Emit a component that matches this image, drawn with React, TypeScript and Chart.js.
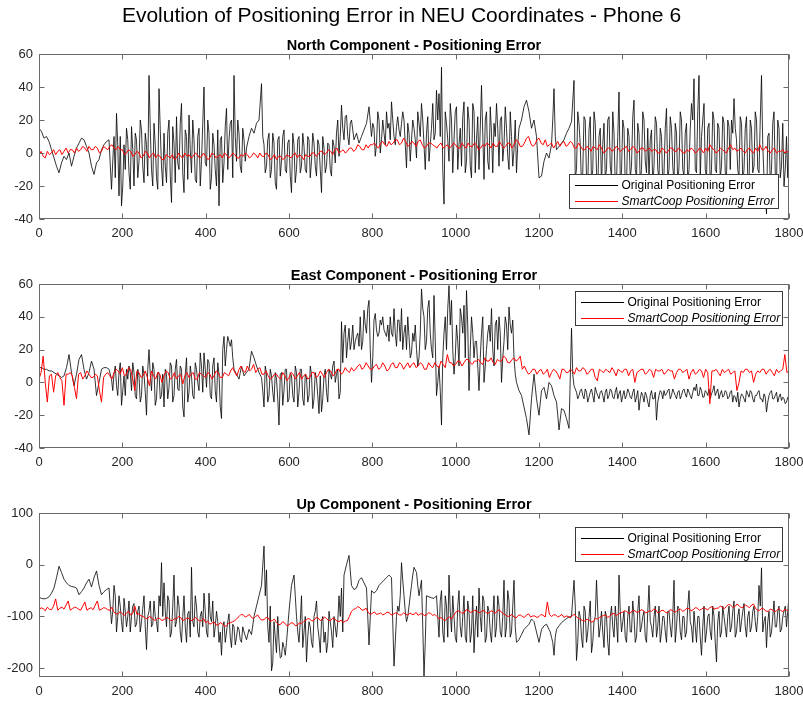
import React, { useEffect, useRef } from "react";
import { Chart, registerables } from "chart.js";

Chart.register(...registerables);

const FONT_FAMILY = '"Liberation Sans", Arial, Helvetica, sans-serif';
const MAIN_TITLE = "Evolution of Positioning Error in NEU Coordinates - Phone 6";
const PANEL_TITLES = [
  "North Component - Positioning Error",
  "East Component - Positioning Error",
  "Up Component - Positioning Error",
];
const LEGEND_LABELS = ["Original Positioning Error", "SmartCoop Positioning Error"];
const X_TICKS = [0, 200, 400, 600, 800, 1000, 1200, 1400, 1600, 1800];
const NE_Y_TICKS = [-40, -20, 0, 20, 40, 60];
const UP_Y_TICKS = [-200, -100, 0, 100];

const ORIGINAL_STEP = 6; // black series: samples at 0, 6, 12, ...
const ORIGINAL_MID_OFFSET = 3; // extra black samples at 3, 9, 15, ... (null = no extra sample)
const SMART_STEP = 10; // red series: samples at 0, 10, 20, ...
const SMART_MID_OFFSET = 5; // extra red samples at 5, 15, 25, ...

// ---------- North ----------
const NORTH_ORIGINAL = [
  15, 13, 9, 10, 7, 2, -3, -8, -12, -6, -2, -4, 0, -8, -2, 3, 6, 9, 8, 4, 0, -8, -13, -6, -4,
  2, 5, 7, 8, -22, 10, 24, -26, -32, 5, 15, -12, 16, -20, 8, -5, 14, -18, 5, 47, -10, 18, -15, 39, -8,
  12, -18, 20, -30, 6, 22, -10, 30, -24, 10, 23, -12, 8, -18, 15, -5, 40, -8, 12, -15, 5, -20, -32, 10, -6,
  27, 8, 20, 47, -5, 12, -12, 8, 3, 10, 15, 12, 18, 20, 42, 5, -8, 12, -10, 6, -22, 10, -5, 14, -12,
  8, -24, 5, -10, 10, -8, 4, -12, 8, -5, 6, -14, 5, -24, 3, -8, 5, -14, 4, 12, -2, 29, 8, 23, 5,
  20, 8, 12, 6, 10, 14, 18, 28, 10, 15, 5, 20, 8, 12, 25, 18, 31, 10, 16, 14, 18, 20, -9, 12, 8,
  15, -3, 18, 30, 5, 12, -5, 15, 8, 38, 36, 52, -31, 18, -5, 20, 8, 28, 5, -8, 31, -5, 20, -15, 25,
  8, -10, 41, -16, 25, -10, 12, 18, 30, -8, 22, 5, 15, -10, 10, 2, -12, 15, 20, 28, 32, 25, 15, 20, 10,
  -15, -14, -5, 0, -3, 5, 39, 2, 4, 6, 8, 12, 15, 19, 44, -10, 18, -20, 22, -15, 14, -18, 25, -12, 10,
  -20, 18, -10, 22, -15, 12, -18, 37, -12, 15, -20, 10, -8, 32, -15, 12, -10, 20, -12, -16, 14, -8, 18, -15, 10,
  -12, 27, -10, 15, -18, 12, -8, 20, -14, 18, -10, 30, 45, -12, 47, 10, 30, -15, 18, -10, 20, -12, 15, -8, 18,
  -14, 16, 20, 33, 8, -15, 18, -10, 22, -18, 15, -8, 20, -12, 47, -15, -37, 12, -10, 25, -18, 15, -8, -20, 10,
  17,
];
const NORTH_ORIGINAL_MID = [
  null, null, null, null, null, null, null, null, null, null, null, null, null, null, null, null, null, null, null, null, null, null, null, null, null,
  null, null, null, null, -5, -15, 5, 10, -20, -10, 8, -22, 2, 12, -15, 20, -8, 12, -14, 15, -20, 5, -22, 14, -20,
  -8, 12, -14, 16, -18, -6, 18, -12, 14, -16, 2, 20, -16, 10, -20, 18, -6, 20, -22, 12, -10, 14, 8, -18, 16,
  -10, 18, -15, 10, 20, -8, 15, -5, null, null, null, null, null, null, 10, -12, 8, -15, 12, -18, 8, -14, 10, -10, 6,
  -14, 12, -18, 8, -12, 12, -10, 10, -15, 12, -8, 8, -10, 10, -12, 6, -10, 8, -6, 20, 10, 15, 22, 10, 18,
  null, null, null, null, null, null, null, null, 18, -2, 25, 0, 20, 5, 15, 8, 20, 5, 22, 10, 25, 5, 18, -5, 20,
  8, 25, 10, 20, -10, 22, 5, 30, 12, 20, 10, -10, 25, 8, 30, -12, 25, -10, 15, 22, -12, 28, -8, 30, -12,
  22, 15, 12, 20, -5, 28, -12, 10, 15, 20, -5, 28, -2, 25, -8, 20, 5, null, null, null, null, null, null, null, null,
  null, null, null, null, null, 20, 10, null, null, null, null, null, null, null, -15, 25, 5, -12, 20, -20, 22, -10, 18, -22, 15,
  5, -15, 20, -8, 25, -20, 10, -15, 20, -20, 15, -15, 22, -10, 18, -18, 25, -5, 15, 8, -20, 22, -10, 15, -20,
  15, -15, 22, -8, 18, -20, 25, -10, 12, -18, 15, 20, -10, 25, -15, 20, -10, 15, -20, 25, -10, 18, -15, 22, -12,
  20, -10, 12, 15, -10, 22, -18, 15, -15, 20, -12, 25, -10, 20, 5, -25, 10, -18, 18, -12, 20, -15, 18, -10, -15,
];
const NORTH_SMART = [
  -1, -2, 1, 0, -1, 2, 1, 0, 2, 3, 2, 3, 4, 2, 3, 1, 3, 4, 3, 4,
  2, 0, 1, -1, 0, -2, 0, -1, -3, -2, -4, -2, -1, -3, -2, 0, -1, -2, -1, -2,
  -2, -3, -1, -2, -3, -1, -2, -1, -3, -2, -1, -2, -1, 0, -2, -1, -3, -4, -2, -3,
  -2, -1, -3, -2, -1, -2, 0, -1, 1, 0, 1, 2, 0, 2, 1, 3, 2, 4, 2, 3,
  5, 4, 6, 5, 7, 6, 8, 6, 7, 5, 6, 7, 5, 4, 6, 4, 5, 3, 5, 4,
  5, 3, 4, 6, 4, 5, 3, 4, 5, 6, 4, 5, 4, 6, 5, 7, 4, 9, 6, 5,
  9, 5, 4, 6, 5, 4, 7, 5, 6, 3, 4, 2, 3, 4, 2, 3, 1, 3, 2, 3,
  2, 4, 2, 3, 1, 3, 2, 1, 2, 0, 2, 1, 3, 1, 2, 0, 1, 2, 1, 2,
  3, 5, 2, 1, 2, 0, 5, 3, 2, 1, 2, 1, 3, 5, 2, 1, 2, 0, 1, 0,
  0,
];
const NORTH_SMART_MID = [
  1, -3, -1, 2, 1, -1, 3, 2, 0, 1, 4, 1, 2, 4, 0, 4, 2, 5, 2, 2,
  -1, 2, -2, 1, -3, 1, -3, 0, -1, -4, -1, -3, -4, 0, -3, -2, -3, 0, -3, 0,
  -4, 0, -3, -1, 0, -3, 0, -3, -1, 0, -3, 0, -3, -2, 0, -4, -1, -2, -4, -1,
  -3, 0, -1, -4, -2, 0, -2, 1, -1, 2, -1, 3, 1, 0, 3, 1, 5, 2, 5, 5,
  6, 3, 7, 4, 5, 8, 5, 9, 4, 7, 4, 8, 3, 6, 5, 3, 6, 4, 3, 6,
  3, 6, 3, 4, 6, 2, 5, 6, 3, 4, 7, 3, 6, 3, 8, 4, 6, 10, 4, 8,
  6, 8, 5, 3, 7, 6, 4, 7, 3, 6, 2, 4, 1, 3, 5, 0, 3, 1, 4, 1,
  3, 1, 4, 0, 3, 1, 3, 2, 0, 3, 0, 3, 1, 3, 0, 2, 3, 0, 3, 0,
  1, 3, 0, 3, 1, 3, 2, 1, 3, 0, 3, 0, 1, 2, 4, 0, 3, 1, 2, 1,
];

// ---------- East ----------
const EAST_ORIGINAL = [
  9, 9, 8, 8, 7, 7, 6, 5, 4, 3, 4, 9, 17, 6, -2, 5, 14, 17, 8, 2, 6, 13, 8, -8, 0,
  8, 9, 9, 8, 2, 5, -2, 6, -14, 4, 8, 10, -5, 6, -10, 4, -8, 5, -20, 20, -5, 8, -10, 6, -8,
  -15, 5, -3, 10, -8, 14, -5, 8, -21, 15, -6, 4, -10, 8, -5, 10, 18, -3, 12, -10, 15, -12, 5, -22, 28,
  20, 25, 26, 8, 5, 2, 10, 4, 6, 8, 19, 15, 10, 6, 3, -15, 5, -8, 4, -12, 2, -26, 6, -5, 8,
  -10, 4, -12, 6, -6, 8, -14, 3, -8, 5, -10, 2, -19, -18, 4, -6, 8, 2, 13, 5, -10, 37, 30, 15, 33,
  25, 20, 28, 22, 20, 44, 30, 50, 0, 38, 32, 30, 35, 32, 28, 25, 30, 45, 22, 38, 45, 30, 20, 28, 18,
  25, 20, 15, 57, 40, 25, 50, 20, 53, -8, 10, -26, 30, 20, 59, 50, 5, 35, 10, 40, 47, 56, -5, 40, 15,
  25, -5, 30, 0, 20, 35, 45, 10, 38, 40, 0, 25, 35, 46, 30, 15, 0, -5, -8, -15, -22, -32, -10, 5, -10,
  -20, -5, -3, -10, 0, -2, -8, -12, -29, -16, -17, -22, -28, 33, -2, -6, -8, -4, -10, -6, -9, -4, -12, -6, -10,
  -5, -12, -4, -8, -5, -10, -3, -7, -12, -5, -8, -6, -10, -4, -9, -17, -6, -12, -8, -15, -5, -10, -23, -8, -6,
  -5, -7, -4, -8, -6, -10, -5, -8, -4, -9, -6, -10, -3, -1, -8, -5, -9, -6, -4, -7, -2, -6, -10, -5, -8,
  -6, -9, -5, -8, -12, -15, -7, -10, -5, -9, -6, -12, -8, -5, -10, -7, -18, -8, -5, -10, -6, -9, -11, -10, -12,
  -10,
];
const EAST_ORIGINAL_MID = [
  null, null, null, null, null, null, null, null, null, null, null, null, null, null, null, null, null, null, null, null, null, null, null, null, null,
  null, null, null, null, -5, 10, -8, 12, -5, -8, 2, 6, 12, -8, 8, -12, 10, -6, 8, 5, 12, -14, 6, -10, 5,
  8, -10, 12, -12, 8, -4, 10, -15, 5, -12, 10, -8, 12, 0, 18, -6, 8, 14, -8, 10, -5, 12, -15, 20, 10,
  28, 22, 15, null, null, null, null, null, null, null, null, null, null, null, -5, 10, -12, 8, -6, 6, -10, 5, -14, 8, -12,
  6, -8, 10, -15, 8, -10, 5, -12, 10, -16, 6, -8, 4, -10, 8, -12, 5, 10, 0, 8, -6, 12, 35, 25, 20,
  35, 25, 30, 40, 25, 35, 45, 20, 15, 42, 28, 38, 40, 30, 35, 40, 28, 30, 38, 25, 20, 35, 40, 15, 30,
  35, 10, 30, 45, 20, 45, 30, 15, 25, 0, -5, 15, 40, 45, 35, 20, 15, 25, 45, 30, 15, 35, 20, 30, 25,
  10, 15, 40, 10, 30, 25, 20, 35, 20, 30, 15, 40, 20, 35, 38, 5, null, null, null, null, null, null, null, null, null,
  null, null, null, null, null, null, null, -20, null, null, null, null, null, 5, -4, -10, -5, -8, -4, -12, -6, -8, -3, -8, -6,
  -8, -6, -10, -4, -9, -6, -10, -5, -8, -10, -4, -9, -6, -12, -5, -10, -8, -6, -12, -8, -10, -6, -12, -5, -10,
  -8, -5, -10, -4, -8, -6, -10, -5, -7, -4, -8, -6, -5, -8, -3, -9, -5, -8, -10, -5, -8, -4, -7, -9, -5,
  -10, -6, -12, -9, -6, -10, -8, -12, -7, -5, -10, -8, -6, -10, -12, -9, -12, -6, -10, -8, -12, -7, -9, -13, -9,
];
const EAST_SMART = [
  2, 16, -12, 5, 4, 3, -14, 5, 4, -10, 6, 4, 5, 3, 4, -12, 5, 4, 6, 7,
  9, 5, 8, -5, 6, 4, 3, 7, 2, 5, 4, 6, 3, 2, 5, 4, 3, 6, 2, 5,
  3, 5, 4, 6, 3, 5, 7, 6, 8, 7, 10, 8, 6, 9, 5, 4, 3, 5, 2, 4,
  3, 5, 4, 2, 5, 3, 6, 4, 5, 6, 7, 5, 8, 6, 7, 9, 8, 11, 9, 10,
  8, 11, 9, 10, 8, 12, 9, 11, 10, 9, 12, 10, 11, 8, 10, 12, 9, 11, 17, 12,
  11, 13, 12, 14, 11, 13, 12, 15, 13, 12, 14, 13, 15, 12, 15, 14, 8, 7, 6, 8,
  7, 5, 8, 6, 7, 2, 8, 6, 7, 9, 7, 8, 6, 8, 1, 7, 8, 6, 7, 8,
  6, 8, 7, 0, 7, 8, 6, 7, 8, 7, 5, 8, 7, 6, 8, 7, 2, 8, 6, 7,
  8, -13, 7, 6, 8, 7, 5, 7, 0, 6, 8, 7, 5, 6, 8, 7, 6, 8, 7, 17,
  7,
];
const EAST_SMART_MID = [
  6, 0, 4, -6, 6, 1, 5, 6, -3, 5, 2, 7, 3, 5, -5, 3, 6, 2, 8, 5,
  4, 9, 2, 7, 3, 7, -2, 4, 6, 0, 7, 2, 6, 4, -1, 6, 5, 2, 6, 4,
  6, 2, 7, 3, 6, 4, 9, 4, 10, 6, 7, 11, 8, 5, 7, 2, 5, 3, 6, 1,
  6, 2, 6, 4, 2, 6, 3, 7, 3, 8, 4, 8, 5, 9, 6, 7, 10, 8, 12, 8,
  10, 8, 12, 7, 11, 9, 12, 8, 12, 11, 9, 12, 8, 12, 9, 10, 13, 9, 12, 10,
  13, 10, 14, 12, 13, 14, 11, 13, 15, 11, 13, 16, 12, 14, 13, 16, 10, 5, 8, 5,
  8, 6, 3, 8, 5, 8, 6, 8, 5, 7, 9, 5, 8, 3, 8, 6, 7, 9, 4, 7,
  8, 4, 8, 6, 8, 5, 8, 3, 7, 8, 6, 7, 2, 8, 6, 8, 6, 5, 8, 3,
  6, 7, 8, 4, 6, 8, 6, -5, 7, 8, 6, 0, 7, 8, 5, 8, 4, 6, 8, 6,
];

// ---------- Up ----------
const UP_ORIGINAL = [
  -63, -65, -66, -65, -62, -55, -45, -25, -3, -15, -28, -35, -40, -42, -43, -45, -58, -52, -45, -35, -28, -43, -25, -12, -40,
  -58, -52, -48, -45, -114, -40, -130, -60, -110, -65, -120, -70, -100, -75, -115, -80, -110, -60, -164, -90, -120, -70, -110, -60, 4,
  -35, -120, -70, -130, -20, -110, -80, -150, -60, -150, -90, -5, -120, -80, -140, -90, -55, -130, -55, -110, -140, -90, -150, -175, -110,
  -130, -95, -160, -120, -140, -125, -150, -130, -145, -125, -135, -100, -80, -60, -40, 36, -10, -150, -205, -110, -170, -150, -178, -160, -150,
  -90, -40, -20, -100, -150, -60, -130, -188, -110, -150, -100, -70, -140, -110, -150, -170, -90, -130, -100, -140, -60, -45, -20, 0, 18,
  -40, -48, -45, -30, -25, -35, -45, -155, -50, -55, -50, -40, -35, -30, -25, -20, -25, -196, -100, -90, 4, -60, -110, -80, -40,
  -5, -15, -60, -30, -215, -60, -62, -64, -65, -60, -140, -50, -150, -80, -20, -130, -100, -150, -50, -140, -60, -150, -90, -130, -170,
  -80, -45, -130, -70, -140, -90, -150, -60, -120, -80, -140, -30, -120, -70, -130, -30, -150, -145, -135, -125, -120, -115, -105, -110, -130,
  -150, -125, -118, -115, -125, -140, -175, -125, -118, -112, -108, -104, -101, -100, -30, -185, -90, -140, -80, -150, -100, -170, -110, -30, -140,
  -90, -160, -100, -175, -80, -140, -110, -20, -130, -90, -150, -80, -130, -100, -140, -60, -120, -90, -150, -40, -120, -100, -140, -80, -130,
  -100, -150, -90, -140, -30, -120, -85, -145, -100, -130, -50, -120, -90, -150, -100, -175, -80, -130, -95, -145, -100, -188, -90, -130, -100,
  -140, -80, -120, -70, -130, -85, -110, -75, -140, -90, -120, -80, -130, -40, -6, -110, -160, -90, -130, -70, -120, -80, -125, -90, -120,
  -60,
];
const UP_ORIGINAL_MID = [
  null, null, null, null, null, null, null, null, null, null, null, null, null, null, null, null, null, null, null, null, null, null, null, null, null,
  null, null, null, null, -90, -60, -100, -80, -130, -90, -100, -130, -80, -120, -90, -130, -85, -120, -100, -70, -115, -100, -130, -80, -100,
  -90, -60, -140, -80, -120, -60, -130, -100, -120, -95, -140, -110, -60, -130, -100, -120, -90, -140, -100, -70, -120, -110, -130, -120, -150,
  -110, -140, -115, -155, -120, -145, -120, null, null, null, null, null, null, null, null, -60, -120, -80, -190, -140, -100, -180, -150, -175, null,
  null, null, -60, -130, -110, -160, -100, -140, -120, -160, -90, -120, -170, -100, -130, -150, -110, -160, -120, -110, -100, -130, null, null, null,
  null, null, null, null, null, null, null, null, null, null, null, null, null, null, null, null, null, -150, -80, -60, -30, -90, -100, -60, -20,
  -10, -40, -45, -120, -150, null, null, null, null, -100, -70, -130, -60, -140, -90, -60, -140, -80, -120, -100, -140, -70, -150, -60, -120,
  -140, -100, -60, -150, -80, -130, -100, -140, -60, -130, -100, -140, -50, -140, -80, -120, null, null, null, null, null, null, null, null, null,
  null, null, null, null, -130, -150, -140, null, null, null, null, null, null, null, -80, -150, -100, -160, -90, -130, -70, -150, -100, -90, -120,
  -130, -90, -150, -100, -120, -80, -150, -90, -110, -140, -100, -130, -70, -150, -90, -130, -100, -140, -90, -110, -140, -80, -120, -150, -100,
  -130, -90, -120, -100, -150, -80, -130, -100, -140, -80, -110, -150, -120, -100, -140, -120, -150, -100, -130, -80, -150, -110, -140, -80, -120,
  -100, -130, -90, -140, -100, -130, -90, -120, -100, -130, -90, -110, -100, -80, -130, -100, -110, -140, -100, -120, -90, -130, -100, -80, -90,
];
const UP_SMART = [
  -88, -85, -82, -87, -66, -84, -86, -70, -85, -83, -88, -72, -85, -87, -70, -86, -84, -88, -92, -95,
  -95, -93, -97, -80, -95, -100, -105, -102, -107, -104, -106, -103, -108, -105, -102, -106, -104, -107, -105, -108,
  -112, -115, -110, -117, -114, -118, -112, -108, -100, -97, -99, -102, -100, -104, -106, -103, -108, -112, -115, -113,
  -116, -113, -117, -114, -108, -105, -107, -103, -106, -104, -108, -105, -110, -112, -108, -90, -85, -83, -87, -92,
  -94, -96, -93, -95, -92, -96, -94, -97, -95, -93, -96, -98, -95, -97, -94, -96, -104, -106, -103, -105,
  -92, -90, -93, -88, -91, -89, -92, -90, -93, -91, -89, -92, -97, -99, -101, -98, -100, -97, -101, -99,
  -100, -98, -72, -100, -97, -99, -102, -100, -98, -101, -106, -109, -107, -110, -105, -100, -97, -99, -94, -96,
  -92, -90, -93, -89, -91, -88, -92, -90, -87, -91, -89, -92, -88, -90, -86, -88, -85, -87, -84, -86,
  -85, -83, -86, -84, -82, -80, -78, -81, -79, -82, -80, -78, -85, -88, -86, -90, -87, -89, -88, -86,
  -90,
];
const UP_SMART_MID = [
  -83, -89, -86, -80, -88, -82, -78, -88, -82, -86, -80, -88, -83, -78, -88, -83, -87, -82, -95, -90,
  -98, -90, -94, -96, -99, -103, -100, -107, -103, -108, -102, -107, -104, -100, -108, -103, -108, -102, -109, -104,
  -109, -113, -116, -112, -119, -113, -110, -104, -96, -101, -96, -104, -97, -107, -102, -109, -105, -116, -110, -118,
  -112, -118, -112, -110, -104, -109, -102, -108, -101, -108, -103, -109, -107, -109, -100, -86, -81, -88, -84, -96,
  -91, -95, -97, -92, -97, -93, -97, -93, -98, -96, -92, -95, -98, -93, -98, -100, -102, -108, -101, -98,
  -89, -94, -87, -92, -88, -93, -88, -94, -89, -94, -87, -95, -100, -96, -103, -97, -102, -95, -99, -102,
  -96, -101, -96, -97, -101, -96, -99, -103, -96, -104, -108, -105, -111, -104, -102, -98, -102, -95, -98, -93,
  -89, -94, -88, -92, -87, -93, -89, -86, -93, -88, -93, -87, -92, -87, -90, -84, -89, -83, -88, -83,
  -87, -81, -84, -80, -85, -77, -82, -76, -83, -78, -83, -76, -88, -84, -90, -86, -91, -85, -91, -88,
];

const AXIS_COLOR = "#6a6a6a";
const LABEL_COLOR = "#262626";

type LegendCfg = { anchor: "top" | "bottom"; offset: number; right: number; width: number; height: number };
type PanelCfg = {
  title: string;
  original: number[];
  originalMid: (number | null)[];
  smart: number[];
  smartMid: number[];
  yMin: number;
  yMax: number;
  yTicks: number[];
  top: number;
  height: number;
  padTop: number;
  xAxisH: number;
  titleY: number;
  legend: LegendCfg;
};

const PANELS: PanelCfg[] = [
  {
    title: PANEL_TITLES[0], original: NORTH_ORIGINAL, originalMid: NORTH_ORIGINAL_MID,
    smart: NORTH_SMART, smartMid: NORTH_SMART_MID,
    yMin: -40, yMax: 60, yTicks: NE_Y_TICKS,
    top: 0, height: 245, padTop: 54, xAxisH: 26, titleY: 44.5,
    legend: { anchor: "bottom", offset: 11, right: 11, width: 209, height: 34 },
  },
  {
    title: PANEL_TITLES[1], original: EAST_ORIGINAL, originalMid: EAST_ORIGINAL_MID,
    smart: EAST_SMART, smartMid: EAST_SMART_MID,
    yMin: -40, yMax: 60, yTicks: NE_Y_TICKS,
    top: 250, height: 224, padTop: 34, xAxisH: 26, titleY: 275,
    legend: { anchor: "top", offset: 7, right: 7, width: 207, height: 34 },
  },
  {
    title: PANEL_TITLES[2], original: UP_ORIGINAL, originalMid: UP_ORIGINAL_MID,
    smart: UP_SMART, smartMid: UP_SMART_MID,
    yMin: -217, yMax: 100, yTicks: UP_Y_TICKS,
    top: 480, height: 221, padTop: 33, xAxisH: 24, titleY: 504,
    legend: { anchor: "top", offset: 14, right: 7, width: 207, height: 34 },
  },
];

// interleave the main samples with the in-between samples (nulls skipped)
const mergeSamples = (main: number[], mid: (number | null)[], step: number, offset: number) => {
  const pts: { x: number; y: number }[] = [];
  main.forEach((y, i) => {
    pts.push({ x: i * step, y });
    const m = mid[i];
    if (m !== null && m !== undefined) pts.push({ x: i * step + offset, y: m });
  });
  return pts;
};

const axesBoxPlugin = {
  id: "axesBox",
  afterDatasetsDraw(chart: any) {
    const { ctx, chartArea: a, scales } = chart;
    const L = Math.round(a.left) + 0.5;
    const R = Math.round(a.right) - 0.5;
    const T = Math.round(a.top) + 0.5;
    const B = Math.round(a.bottom) - 0.5;
    const len = 5;
    ctx.save();
    ctx.strokeStyle = AXIS_COLOR;
    ctx.lineWidth = 1;
    ctx.beginPath();
    for (const t of scales.x.ticks) {
      const px = Math.round(scales.x.getPixelForValue(t.value)) + 0.5;
      ctx.moveTo(px, B);
      ctx.lineTo(px, B - len);
      ctx.moveTo(px, T);
      ctx.lineTo(px, T + len);
    }
    for (const t of scales.y.ticks) {
      const py = Math.round(scales.y.getPixelForValue(t.value)) + 0.5;
      ctx.moveTo(L, py);
      ctx.lineTo(L + len, py);
      ctx.moveTo(R, py);
      ctx.lineTo(R - len, py);
    }
    ctx.stroke();
    ctx.strokeRect(L, T, R - L, B - T);
    ctx.restore();
  },
};

const boxLegendPlugin = {
  id: "boxLegend",
  afterDraw(chart: any, _args: any, opts: any) {
    const { ctx, chartArea: a } = chart;
    const w = opts.width;
    const h = opts.height;
    const x = Math.round(a.right - opts.right - w) + 0.5;
    const y = Math.round(opts.anchor === "bottom" ? a.bottom - opts.offset - h : a.top + opts.offset) + 0.5;
    ctx.save();
    ctx.fillStyle = "#ffffff";
    ctx.fillRect(x, y, w, h);
    ctx.strokeStyle = "#3a3a3a";
    ctx.lineWidth = 1;
    ctx.strokeRect(x, y, w, h);
    const items = [
      { label: LEGEND_LABELS[0], color: "#000000", italic: false },
      { label: LEGEND_LABELS[1], color: "#ff0000", italic: true },
    ];
    items.forEach((it, i) => {
      const cy = Math.round(y + 10 + i * 16);
      ctx.fillStyle = it.color;
      ctx.fillRect(Math.round(x + 5), cy, 43, 1);
      ctx.fillStyle = "#000000";
      ctx.font = `${it.italic ? "italic " : ""}12px ${FONT_FAMILY}`;
      ctx.textBaseline = "middle";
      ctx.textAlign = "left";
      ctx.fillText(it.label, x + 52, cy + 0.5);
    });
    ctx.restore();
  },
};

function Panel({ cfg }: { cfg: PanelCfg }) {
  const ref = useRef<HTMLCanvasElement>(null);
  useEffect(() => {
    if (!ref.current) return;
    const chart = new Chart(ref.current, {
      type: "line",
      data: {
        datasets: [
          {
            label: LEGEND_LABELS[1],
            data: mergeSamples(cfg.smart, cfg.smartMid, SMART_STEP, SMART_MID_OFFSET),
            borderColor: "#ff0000",
            borderWidth: 1,
            pointRadius: 0,
            tension: 0,
            order: 0,
          },
          {
            label: LEGEND_LABELS[0],
            data: mergeSamples(cfg.original, cfg.originalMid, ORIGINAL_STEP, ORIGINAL_MID_OFFSET),
            borderColor: "#000000",
            borderWidth: 0.8,
            pointRadius: 0,
            tension: 0,
            order: 1,
          },
        ],
      },
      options: {
        responsive: false,
        animation: false,
        devicePixelRatio: 1,
        events: [],
        layout: { padding: { top: cfg.padTop, right: 14, left: 0, bottom: 0 } },
        plugins: {
          legend: { display: false },
          tooltip: { enabled: false },
          title: { display: false },
          boxLegend: cfg.legend,
        } as any,
        scales: {
          x: {
            type: "linear",
            min: 0,
            max: 1800,
            grid: { display: false, drawTicks: false },
            border: { display: false },
            afterBuildTicks: (s: any) => {
              s.ticks = X_TICKS.map((v) => ({ value: v }));
            },
            afterFit: (s: any) => {
              s.height = cfg.xAxisH;
              s.paddingLeft = 0;
              s.paddingRight = 0;
            },
            ticks: {
              autoSkip: false,
              maxRotation: 0,
              padding: 7,
              color: LABEL_COLOR,
              font: { family: FONT_FAMILY, size: 13 },
              callback: (v: any) => String(v),
            },
          },
          y: {
            type: "linear",
            min: cfg.yMin,
            max: cfg.yMax,
            grid: { display: false, drawTicks: false },
            border: { display: false },
            afterBuildTicks: (s: any) => {
              s.ticks = cfg.yTicks.map((v) => ({ value: v }));
            },
            afterFit: (s: any) => {
              s.width = 39;
              s.paddingTop = 0;
              s.paddingBottom = 0;
            },
            ticks: {
              autoSkip: false,
              padding: 6,
              color: LABEL_COLOR,
              font: { family: FONT_FAMILY, size: 13 },
              callback: (v: any) => String(v),
            },
          },
        },
      },
      plugins: [axesBoxPlugin, boxLegendPlugin],
    });
    return () => chart.destroy();
  }, [cfg]);
  return (
    <canvas
      ref={ref}
      width={803}
      height={cfg.height}
      style={{ position: "absolute", left: 0, top: cfg.top, width: 803, height: cfg.height }}
    />
  );
}

export default function App() {
  return (
    <div
      style={{
        position: "absolute",
        left: 0,
        top: 0,
        width: 803,
        height: 701,
        background: "#ffffff",
        overflow: "hidden",
        fontFamily: FONT_FAMILY,
      }}
    >
      {PANELS.map((p, i) => (
        <Panel key={i} cfg={p} />
      ))}
      <div
        style={{
          position: "absolute",
          left: 0,
          top: 2,
          width: 803,
          height: 26,
          lineHeight: "26px",
          textAlign: "center",
          fontSize: 21,
          color: "#000",
          whiteSpace: "nowrap",
        }}
      >
        {MAIN_TITLE}
      </div>
      {PANELS.map((p, i) => (
        <div
          key={"t" + i}
          style={{
            position: "absolute",
            left: 39,
            top: p.titleY - 9,
            width: 750,
            height: 18,
            lineHeight: "18px",
            textAlign: "center",
            fontSize: 14.5,
            fontWeight: "bold",
            color: "#000",
            whiteSpace: "nowrap",
          }}
        >
          {p.title}
        </div>
      ))}
    </div>
  );
}
